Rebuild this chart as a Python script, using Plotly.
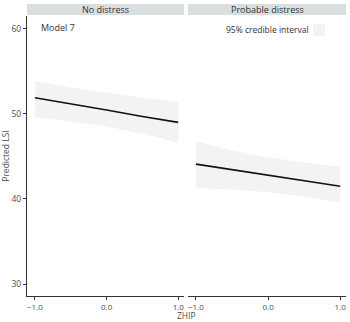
import plotly.graph_objects as go

panels = ["No distress", "Probable distress"]
zhip = [-1.0, -0.5, 0.0, 0.5, 1.0]
fit_no = [51.9, 51.2, 50.45, 49.7, 49.0]
upper_no = [53.9, 53.1, 52.5, 51.9, 51.4]
lower_no = [49.6, 49.1, 48.5, 47.7, 46.6]
fit_prob = [44.1, 43.45, 42.8, 42.15, 41.5]
upper_prob = [46.8, 45.7, 44.9, 44.3, 43.8]
lower_prob = [41.3, 41.1, 40.8, 40.3, 39.6]
y_ticks = [30, 40, 50, 60]
x_ticks = [-1.0, 0.0, 1.0]
x_tick_labels = ["\u22121.0", "0.0", "1.0"]

W, H = 350, 322
FONT = "Open Sans"
TXT = "#4d4d4d"
RIB = "#f3f3f3"

fig = go.Figure()
series = [(fit_no, upper_no, lower_no), (fit_prob, upper_prob, lower_prob)]
for i, (fit, up, lo) in enumerate(series):
    xa = "x" if i == 0 else "x2"
    ya = "y" if i == 0 else "y2"
    fig.add_trace(go.Scatter(x=zhip, y=up, mode="lines", line=dict(width=0, color=RIB),
                             xaxis=xa, yaxis=ya, showlegend=False, hoverinfo="skip"))
    fig.add_trace(go.Scatter(x=zhip, y=lo, mode="lines", line=dict(width=0, color=RIB),
                             fill="tonexty", fillcolor=RIB,
                             xaxis=xa, yaxis=ya, showlegend=False, hoverinfo="skip"))
    fig.add_trace(go.Scatter(x=zhip, y=fit, mode="lines", line=dict(width=1.6, color="#111111"),
                             xaxis=xa, yaxis=ya, showlegend=False))

dom_left = [27 / W, 184 / W]
dom_right = [188 / W, 346 / W]
ydom = [1 - 296 / H, 1 - 16 / H]
xrange = [-1.11, 1.08]
yrange = [28.6, 61.5]

xcommon = dict(range=xrange, tickvals=x_ticks, ticktext=x_tick_labels, showgrid=False,
               zeroline=False, showline=True, linecolor="#333333", linewidth=1.2,
               ticks="outside", ticklen=3, tickcolor="#333333", automargin=False,
               tickfont=dict(family=FONT, size=8, color=TXT), fixedrange=True)
fig.update_layout(
    width=W, height=H, autosize=False,
    margin=dict(l=0, r=0, t=0, b=0),
    paper_bgcolor="white", plot_bgcolor="white",
    showlegend=False,
    xaxis=dict(domain=dom_left, anchor="y", **xcommon),
    xaxis2=dict(domain=dom_right, anchor="y2", **xcommon),
    yaxis=dict(domain=ydom, range=yrange, tickvals=y_ticks, showgrid=False, zeroline=False,
               showline=True, linecolor="#333333", linewidth=1.2, ticks="outside", ticklen=3,
               tickcolor="#333333", tickfont=dict(family=FONT, size=8.5, color=TXT),
               automargin=False, fixedrange=True,
               title=dict(text="Predicted LSI", font=dict(family=FONT, size=8.5, color=TXT), standoff=4),
               anchor="x"),
    yaxis2=dict(domain=ydom, range=yrange, showgrid=False, zeroline=False, showline=False,
                showticklabels=False, ticks="", anchor="x2", matches="y", automargin=False),
)

# facet strips
for dom, label in zip([dom_left, dom_right], panels):
    fig.add_shape(type="rect", xref="paper", yref="paper", x0=dom[0], x1=dom[1],
                  y0=1 - 15 / H, y1=1 - 4 / H, fillcolor="#d9dfdf", line=dict(width=0), layer="below")
    fig.add_annotation(xref="paper", yref="paper", x=(dom[0] + dom[1]) / 2, y=1 - 9.5 / H,
                       text=label, showarrow=False, font=dict(family=FONT, size=9, color="#333333"),
                       xanchor="center", yanchor="middle")

# x-axis title
fig.add_annotation(xref="paper", yref="paper", x=(dom_left[0] + dom_right[1]) / 2, y=1 - 315 / H,
                   text="ZHIP", showarrow=False, font=dict(family=FONT, size=8.5, color=TXT),
                   xanchor="center", yanchor="middle")

# Model label
fig.add_annotation(xref="paper", yref="paper", x=39 / W, y=1 - 28 / H, text="Model 7",
                   showarrow=False, font=dict(family=FONT, size=9, color="#333333"),
                   xanchor="left", yanchor="middle")

# legend for ribbon
fig.add_annotation(xref="paper", yref="paper", x=311 / W, y=1 - 30 / H, text="95% credible interval",
                   showarrow=False, font=dict(family=FONT, size=8.5, color="#333333"),
                   xanchor="right", yanchor="middle")
fig.add_shape(type="rect", xref="paper", yref="paper", x0=313 / W, x1=325 / W,
              y0=1 - 36 / H, y1=1 - 24 / H, fillcolor=RIB, line=dict(width=0))

fig.write_html("out.html", config={"displayModeBar": False},
               post_script="document.body.style.margin='0';")
